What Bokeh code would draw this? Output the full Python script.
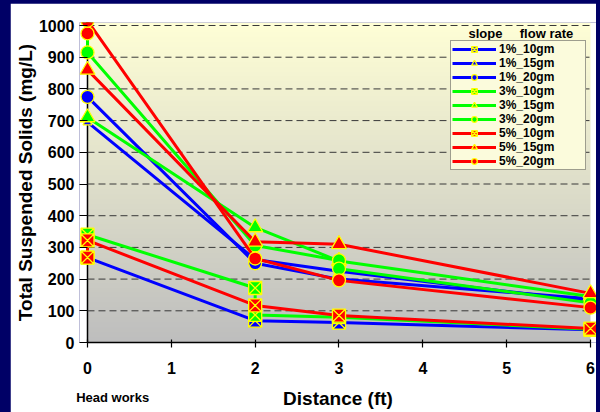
import numpy as np
from bokeh.plotting import figure
from bokeh.models import Range1d, Legend, LegendItem, Label, FixedTicker, LinearAxis, Span
from bokeh.layouts import column
from bokeh.embed import file_html
from bokeh.resources import INLINE

# ---- data ----
x_ticks = [0, 1, 2, 3, 4, 5, 6]
y_ticks = [0, 100, 200, 300, 400, 500, 600, 700, 800, 900, 1000]
headworks_x = 0.3

names = ["1%_10gm", "1%_15gm", "1%_20gm",
         "3%_10gm", "3%_15gm", "3%_20gm",
         "5%_10gm", "5%_15gm", "5%_20gm"]

x_1_10 = [0, 2, 3, 6]
y_1_10 = [268, 69, 63, 40]
x_1_15 = [0, 2, 3, 6]
y_1_15 = [695, 262, 225, 130]
x_1_20 = [0, 2, 3, 6]
y_1_20 = [775, 250, 200, 138]

x_3_10 = [0, 2, 2, 3, 6]
y_3_10 = [340, 172, 87, 80, 42]
x_3_15 = [0, 2, 3, 6]
y_3_15 = [710, 363, 257, 145]
x_3_20 = [0, 0, 2, 3, 3, 6]
y_3_20 = [1020, 915, 306, 259, 233, 125]

x_5_10 = [0, 0, 2, 3, 6]
y_5_10 = [268, 322, 117, 85, 44]
x_5_15 = [0, 2, 3, 6]
y_5_15 = [860, 318, 310, 155]
x_5_20 = [0, 0, 2, 3, 6]
y_5_20 = [975, 1015, 265, 196, 110]

xs = [x_1_10, x_1_15, x_1_20, x_3_10, x_3_15, x_3_20, x_5_10, x_5_15, x_5_20]
ys = [y_1_10, y_1_15, y_1_20, y_3_10, y_3_15, y_3_20, y_5_10, y_5_15, y_5_20]
colors = ["#0000FF"] * 3 + ["#00FF00"] * 3 + ["#FF0000"] * 3
markers = ["square_x", "triangle", "circle"] * 3
sizes = [13, 9, 13, 13, 15, 13, 13, 15, 13]

FONT = "Liberation Sans"
Y_TOP = 1009.5

p = figure(width=586, height=409, output_backend="svg", toolbar_location=None,
           x_range=Range1d(-0.0954, 6.0716), y_range=Range1d(0, Y_TOP),
           y_axis_location=None,
           min_border_left=69, min_border_right=0, min_border_top=19,
           min_border_bottom=70)
p.margin = (3, 4, 0, 10)
p.outline_line_color = None
p.background_fill_color = "white"
p.border_fill_color = "white"
p.xgrid.visible = False
p.ygrid.visible = False

# gradient plot-area background
n = 320
t = np.linspace(0, 1, n)[:, None]
top = np.array([255, 255, 214])
bot = np.array([190, 190, 190])
rgb = (bot + (top - bot) * t).astype(np.uint8)
img = np.zeros((n, 1), dtype=np.uint32)
view = img.view(dtype=np.uint8).reshape((n, 1, 4))
view[:, 0, 0:3] = rgb
view[:, 0, 3] = 255
p.image_rgba(image=[img], x=x_ticks[0], y=y_ticks[0],
             dw=x_ticks[-1] - x_ticks[0], dh=Y_TOP, level="image")

# dashed horizontal grid lines
gy = y_ticks[1:]
p.segment(x0=[x_ticks[0]] * len(gy), y0=gy, x1=[x_ticks[-1]] * len(gy), y1=gy,
          line_color="#383838", line_width=1, line_dash="7 4")

# y axis line at x = 0 (under the markers)
p.add_layout(Span(location=x_ticks[0], dimension="height", line_color="black",
                  line_width=1.5, level="underlay"))

items = []
for name, xx, yy, c, m, s in zip(names, xs, ys, colors, markers, sizes):
    lr = p.line(xx, yy, line_color=c, line_width=3)
    sr = p.scatter(xx, yy, marker=m, size=s, fill_color=c,
                   line_color="#FFFF00", line_width=1.3)
    items.append(LegendItem(label=name, renderers=[lr, sr]))

legend = Legend(items=items, location=(371, 172), padding=1, spacing=0,
                label_height=14, glyph_height=14, glyph_width=44,
                label_standoff=3, label_width=85, margin=0,
                label_text_font=FONT, label_text_font_style="bold",
                label_text_font_size="12px", label_text_color="black",
                background_fill_color="#FBFBDC", background_fill_alpha=1,
                border_line_color="#404040", border_line_width=1)
p.add_layout(legend)

# y axis: labels, ticks (pointing in to x = 0) and title
y_lab = LinearAxis(ticker=FixedTicker(ticks=y_ticks),
                   axis_line_color=None, major_tick_line_color="black",
                   major_tick_line_width=1.2,
                   minor_tick_line_color=None, major_tick_in=8, major_tick_out=0,
                   major_label_standoff=5,
                   major_label_text_font=FONT, major_label_text_font_style="bold",
                   major_label_text_font_size="16px", major_label_text_color="black",
                   axis_label="Total Suspended Solids (mg/L)",
                   axis_label_standoff=0,
                   axis_label_text_font=FONT, axis_label_text_font_style="bold",
                   axis_label_text_font_size="19px", axis_label_text_color="black")
p.add_layout(y_lab, "left")

# x axis
ax = p.xaxis[0]
ax.ticker = FixedTicker(ticks=x_ticks)
ax.bounds = (x_ticks[0], x_ticks[-1])
ax.axis_line_color = "black"
ax.axis_line_width = 1.5
ax.major_tick_line_color = "black"
ax.major_tick_line_width = 1.2
ax.minor_tick_line_color = None
ax.major_tick_in = 3
ax.major_tick_out = 5
ax.major_label_standoff = 14
ax.major_label_text_font = FONT
ax.major_label_text_font_style = "bold"
ax.major_label_text_font_size = "16px"
ax.major_label_text_color = "black"

x_title = LinearAxis(ticker=FixedTicker(ticks=[headworks_x]),
                     major_label_overrides={headworks_x: "Head works"},
                     axis_line_color=None, major_tick_line_color=None,
                     minor_tick_line_color=None, major_tick_in=0, major_tick_out=0,
                     major_label_standoff=13,
                     major_label_text_font=FONT, major_label_text_font_style="bold",
                     major_label_text_font_size="13px", major_label_text_color="black",
                     axis_label="Distance (ft)", axis_label_standoff=-20,
                     axis_label_text_font=FONT, axis_label_text_font_style="bold",
                     axis_label_text_font_size="19px", axis_label_text_color="black")
p.add_layout(x_title, "below")

# legend header
p.add_layout(Label(x=406, y=309, x_units="screen", y_units="screen",
                   text="slope", text_font=FONT, text_font_style="bold",
                   text_font_size="13px", text_align="center",
                   text_baseline="middle", text_color="black"))
p.add_layout(Label(x=467, y=309, x_units="screen", y_units="screen",
                   text="flow rate", text_font=FONT, text_font_style="bold",
                   text_font_size="13px", text_align="center",
                   text_baseline="middle", text_color="black"))

layout = column(p, width=600, height=412,
                styles={"background-color": "#000066"})

open("out.html", "w").write(file_html(layout, INLINE))
